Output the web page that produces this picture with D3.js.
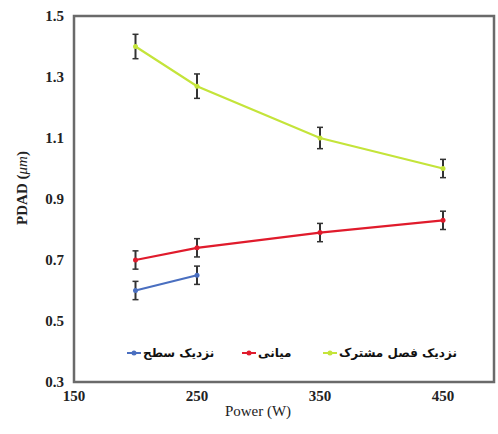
<!DOCTYPE html>
<html lang="fa">
<head>
<meta charset="utf-8">
<script src="https://d3js.org/d3.v7.min.js"></script>
<style>
  body { margin: 0; background: #fff; }
</style>
</head>
<body>
<svg width="498" height="434"></svg>
<script>
// data
var powers = [200, 250, 350, 450];
var xTicks = [150, 250, 350, 450];
var yTicks = [0.3, 0.5, 0.7, 0.9, 1.1, 1.3, 1.5];
var seriesNames = ["نزدیک سطح", "میانی", "نزدیک فصل مشترک"];
var seriesColors = ["#4a6fc0", "#e01b2c", "#c4e43a"];
var surfaceVals = [0.60, 0.65];
var surfaceErr = [0.03, 0.03];
var middleVals = [0.70, 0.74, 0.79, 0.83];
var middleErr = [0.03, 0.03, 0.03, 0.03];
var interfaceVals = [1.40, 1.27, 1.10, 1.00];
var interfaceErr = [0.04, 0.04, 0.035, 0.03];

var series = [
  {name: seriesNames[0], color: seriesColors[0], vals: surfaceVals, err: surfaceErr},
  {name: seriesNames[1], color: seriesColors[1], vals: middleVals, err: middleErr},
  {name: seriesNames[2], color: seriesColors[2], vals: interfaceVals, err: interfaceErr}
];

var serif = "'Liberation Serif', 'DejaVu Serif', serif";
var svg = d3.select("svg");
var x = d3.scaleLinear().domain([150, 450]).range([74, 443]);
var y = d3.scaleLinear().domain([0.3, 1.5]).range([382, 16]);
var right = 494;

// frame
svg.append("rect")
  .attr("x", x(150)).attr("y", y(1.5))
  .attr("width", right - x(150)).attr("height", y(0.3) - y(1.5))
  .attr("fill", "none").attr("stroke", "#6a6a6a").attr("stroke-width", 2.5);

// axes labels
svg.append("g").selectAll("text").data(xTicks).enter().append("text")
  .attr("x", d => x(d)).attr("y", 401)
  .attr("text-anchor", "middle").attr("font-family", serif)
  .attr("font-size", 15).attr("font-weight", "bold").attr("fill", "#222")
  .text(d => d);

svg.append("g").selectAll("text").data(yTicks).enter().append("text")
  .attr("x", 64).attr("y", d => y(d) + 5)
  .attr("text-anchor", "end").attr("font-family", serif)
  .attr("font-size", 15).attr("font-weight", "bold").attr("fill", "#222")
  .text(d => d.toFixed(1));

svg.append("text")
  .attr("x", 258).attr("y", 416)
  .attr("text-anchor", "middle").attr("font-family", serif)
  .attr("font-size", 15).attr("fill", "#222")
  .text("Power (W)");

var yt = svg.append("text")
  .attr("transform", "translate(27,188) rotate(-90)")
  .attr("text-anchor", "middle").attr("font-family", serif)
  .attr("font-size", 15).attr("font-weight", "bold").attr("fill", "#222");
yt.append("tspan").text("PDAD (");
yt.append("tspan").attr("font-style", "italic").attr("font-weight", "normal").text("μm");
yt.append("tspan").text(")");

var line = d3.line().x(d => x(d.p)).y(d => y(d.v));

series.forEach(function(s) {
  var pts = s.vals.map((v, i) => ({p: powers[i], v: v, e: s.err[i]}));
  var g = svg.append("g");
  g.append("path").datum(pts)
    .attr("d", line).attr("fill", "none")
    .attr("stroke", s.color).attr("stroke-width", 2.2);
  var eb = g.selectAll("g.eb").data(pts).enter().append("g");
  eb.append("line")
    .attr("x1", d => x(d.p)).attr("x2", d => x(d.p))
    .attr("y1", d => y(d.v - d.e)).attr("y2", d => y(d.v + d.e))
    .attr("stroke", "#333").attr("stroke-width", 2);
  eb.append("line")
    .attr("x1", d => x(d.p) - 3).attr("x2", d => x(d.p) + 3)
    .attr("y1", d => y(d.v + d.e)).attr("y2", d => y(d.v + d.e))
    .attr("stroke", "#333").attr("stroke-width", 1.5);
  eb.append("line")
    .attr("x1", d => x(d.p) - 3).attr("x2", d => x(d.p) + 3)
    .attr("y1", d => y(d.v - d.e)).attr("y2", d => y(d.v - d.e))
    .attr("stroke", "#333").attr("stroke-width", 1.5);
  eb.append("circle")
    .attr("cx", d => x(d.p)).attr("cy", d => y(d.v))
    .attr("r", 2.5).attr("fill", s.color);
});

// legend
var legendY = 353;
var legendX = [127, 242, 323];
var lg = svg.append("g").selectAll("g").data(series).enter().append("g")
  .attr("transform", (d, i) => "translate(" + legendX[i] + "," + legendY + ")");
lg.append("line").attr("x1", 0).attr("x2", 14).attr("y1", 0).attr("y2", 0)
  .attr("stroke", d => d.color).attr("stroke-width", 2);
lg.append("circle").attr("cx", 7).attr("cy", 0).attr("r", 2.5)
  .attr("fill", d => d.color);
lg.append("text")
  .attr("x", 16).attr("y", 4)
  .attr("text-anchor", "start")
  .attr("direction", "ltr")
  .attr("font-family", "'DejaVu Sans', 'Noto Sans', sans-serif")
  .attr("font-size", 12).attr("font-weight", "bold").attr("fill", "#111")
  .text(d => d.name);
</script>
</body>
</html>
